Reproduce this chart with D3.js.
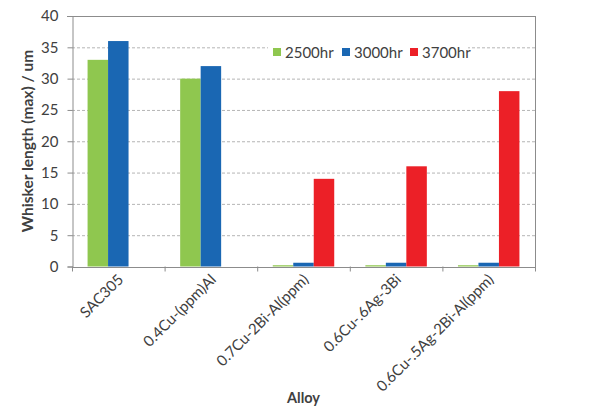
<!DOCTYPE html>
<html><head><meta charset="utf-8">
<script src="https://cdn.jsdelivr.net/npm/d3@7"></script>
<style>body{margin:0;background:#fff}svg{display:block}</style>
</head><body>
<svg id="c" width="600" height="414"></svg>
<script>
const categories = ["SAC305","0.4Cu-(ppm)Al","0.7Cu-2Bi-Al(ppm)","0.6Cu-.6Ag-3Bi","0.6Cu-.5Ag-2Bi-Al(ppm)"];
const seriesNames = ["2500hr","3000hr","3700hr"];
const s2500 = [33, 30, 0.2, 0.2, 0.2];
const s3000 = [36, 32, 0.6, 0.6, 0.6];
const s3700 = [0, 0, 14, 16, 28];
const yTicks = [0,5,10,15,20,25,30,35,40];
const colors = ["#8fc74f","#1a67b3","#ec2027"];

const series = [s2500, s3000, s3700];
const svg = d3.select("#c");
const m = {l:72, r:535, t:16, b:266.5};
const font = "Lato, 'Open Sans', sans-serif";

const x = d3.scaleBand().domain(categories).range([m.l, m.r]).paddingInner(0).paddingOuter(0);
const xi = d3.scaleBand().domain(seriesNames).range([0, x.bandwidth()]).paddingInner(0).paddingOuter(0.76);
const y = d3.scaleLinear().domain([0,40]).range([m.b, m.t]);

// gridlines
svg.append("g").selectAll("line").data(yTicks.filter(v=>v>0&&v<40)).join("line")
  .attr("x1", m.l).attr("x2", m.r).attr("y1", d=>y(d)+0.5).attr("y2", d=>y(d)+0.5)
  .attr("stroke","#b5b5b5").attr("stroke-width",1).attr("stroke-dasharray","3,2");

// plot border top/right
svg.append("line").attr("x1", m.l-5).attr("x2", m.r+0.5).attr("y1", y(40)+0.5).attr("y2", y(40)+0.5).attr("stroke","#8c8c8c");
svg.append("line").attr("x1", m.r+0.5).attr("x2", m.r+0.5).attr("y1", y(40)).attr("y2", m.b+5).attr("stroke","#8c8c8c");

// bars
const data = [];
categories.forEach((c,i)=>seriesNames.forEach((s,j)=>data.push({c, s, v: series[j][i], j})));
svg.append("g").selectAll("rect").data(data.filter(d=>d.v>0)).join("rect")
  .attr("x", d=>x(d.c)+xi(d.s))
  .attr("width", xi.bandwidth())
  .attr("y", d=>y(d.v))
  .attr("height", d=>y(0)-y(d.v))
  .attr("fill", d=>colors[d.j]);

// y axis
const ya = svg.append("g").attr("transform",`translate(${m.l+0.5},0)`)
  .call(d3.axisLeft(y).tickValues(yTicks).tickSize(5).tickPadding(9));
ya.select(".domain").attr("stroke","#8c8c8c");
ya.selectAll(".tick line").attr("stroke","#8c8c8c");
ya.selectAll("text").attr("font-family",font).attr("font-size",15).attr("fill","#404040");

// x axis
const xa = svg.append("g").attr("transform",`translate(0,${m.b+0.5})`)
  .call(d3.axisBottom(x).tickSize(0).tickFormat(""));
xa.select(".domain").attr("stroke","#8c8c8c");
svg.append("g").selectAll("line").data(categories).join("line")
  .attr("x1", d=>x(d)+0.5).attr("x2", d=>x(d)+0.5).attr("y1", m.b).attr("y2", m.b+5).attr("stroke","#8c8c8c");

svg.append("g").selectAll("text").data(categories).join("text")
  .attr("transform", d=>`translate(${x(d)+x.bandwidth()/2+6},${m.b+14}) rotate(-45)`)
  .attr("text-anchor","end")
  .attr("font-family",font).attr("font-size",15).attr("fill","#404040")
  .text(d=>d);

// axis titles
svg.append("text").attr("x", (m.l+m.r)/2).attr("y", 403).attr("text-anchor","middle")
  .attr("font-family",font).attr("font-weight","bold").attr("font-size",14.5).attr("fill","#404040").text("Alloy");
svg.append("text").attr("transform",`translate(33,${141}) rotate(-90)`).attr("text-anchor","middle")
  .attr("font-family",font).attr("font-weight","bold").attr("font-size",15.5).attr("fill","#404040").text("Whisker length (max) / um");

// legend
const lg = svg.append("g");
lg.append("rect").attr("x",268).attr("y",43).attr("width",200).attr("height",20).attr("fill","#fff");
const lx = [273, 342, 410];
seriesNames.forEach((s,i)=>{
  lg.append("rect").attr("x",lx[i]).attr("y",48).attr("width",8).attr("height",8).attr("fill",colors[i]);
  lg.append("text").attr("x",lx[i]+12).attr("y",57.5).attr("font-family",font).attr("font-size",15).attr("fill","#404040").text(s);
});
</script>
</body></html>
